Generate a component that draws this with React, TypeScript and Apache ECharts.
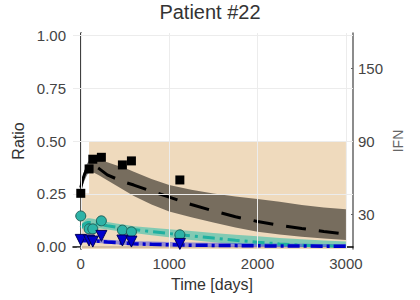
import React, { useEffect, useRef } from "react";
import * as echarts from "echarts";

// Model time grid (days)
const T = [0, 20, 40, 60, 80, 100, 150, 200, 300, 400, 500, 600, 800, 1000, 1250, 1500, 1750, 2000, 2250, 2500, 2750, 3000];

// Black (squares) model
const blackMean = [0.28, 0.315, 0.34, 0.36, 0.374, 0.382, 0.385, 0.372, 0.34, 0.322, 0.305, 0.292, 0.263, 0.235, 0.2, 0.17, 0.142, 0.12, 0.102, 0.087, 0.073, 0.06];
const blackUpper = [0.29, 0.33, 0.36, 0.385, 0.4, 0.41, 0.415, 0.41, 0.4, 0.385, 0.372, 0.355, 0.32, 0.292, 0.27, 0.252, 0.238, 0.226, 0.213, 0.198, 0.186, 0.178];
const blackLower = [0.27, 0.29, 0.31, 0.33, 0.345, 0.35, 0.35, 0.34, 0.315, 0.29, 0.265, 0.24, 0.2, 0.167, 0.14, 0.115, 0.092, 0.072, 0.058, 0.048, 0.04, 0.033];

// Teal (circles) model
const tealMean = [0.09, 0.1, 0.108, 0.113, 0.115, 0.115, 0.112, 0.108, 0.1, 0.093, 0.087, 0.082, 0.072, 0.063, 0.052, 0.042, 0.031, 0.022, 0.014, 0.008, 0.004, 0.002];
const tealUpper = [0.1, 0.115, 0.125, 0.132, 0.135, 0.135, 0.132, 0.127, 0.118, 0.11, 0.104, 0.098, 0.09, 0.083, 0.075, 0.066, 0.057, 0.05, 0.042, 0.036, 0.03, 0.025];
const tealLower = [0.08, 0.085, 0.09, 0.094, 0.095, 0.095, 0.092, 0.088, 0.082, 0.076, 0.07, 0.065, 0.055, 0.045, 0.033, 0.022, 0.012, 0.005, 0.001, 0, 0, 0];

// Blue (triangles) model
const blueMean = [0.03, 0.03, 0.03, 0.03, 0.03, 0.03, 0.029, 0.027, 0.023, 0.02, 0.017, 0.015, 0.012, 0.01, 0.008, 0.007, 0.006, 0.005, 0.004, 0.004, 0.003, 0.003];
const blueUpper = [0.04, 0.04, 0.04, 0.04, 0.04, 0.04, 0.039, 0.037, 0.034, 0.031, 0.029, 0.027, 0.025, 0.023, 0.021, 0.02, 0.018, 0.017, 0.016, 0.015, 0.014, 0.014];
const blueLower = [0.02, 0.02, 0.02, 0.02, 0.02, 0.02, 0.019, 0.018, 0.015, 0.012, 0.009, 0.007, 0.004, 0.002, 0.001, 0, 0, 0, 0, 0, 0, 0];

// Observations
const obsT = [0, 94, 136, 233, 471, 573, 1121];
const blackObs = [0.253, 0.368, 0.414, 0.423, 0.387, 0.406, 0.316];
const tealObs = [0.146, 0.085, 0.085, 0.123, 0.079, 0.071, 0.057];
const blueObs = [0.033, 0.03, 0.025, 0.052, 0.03, 0.025, 0.014];

// IFN dosing (right axis)
const ifnT = [0, 94, 94, 3000];
const ifnV = [47, 47, 90, 90];

// Ticks
const xTicks = [0, 1000, 2000, 3000];
const yTicks = [0, 0.25, 0.5, 0.75, 1.0];
const yGrid = [0.25, 0.5, 0.75, 1.0];
const ifnTicks = [30, 90, 150];

const FONT = "'Liberation Sans', Arial, Helvetica, sans-serif";

const pairs = (xs: number[], ys: number[]) => xs.map((x, i) => [x, ys[i]]);

const band = (upper: number[], lower: number[], fill: string) => ({
  type: "custom",
  xAxisIndex: 0,
  yAxisIndex: 0,
  silent: true,
  z: 3,
  data: [[T[0], upper[0]]],
  renderItem: (_p: any, api: any) => {
    const pts: number[][] = [];
    for (let i = 0; i < T.length; i++) pts.push(api.coord([T[i], upper[i]]));
    for (let i = T.length - 1; i >= 0; i--) pts.push(api.coord([T[i], lower[i]]));
    return { type: "polygon", shape: { points: pts }, style: { fill } };
  },
});

export default function App() {
  const ref = useRef<HTMLDivElement>(null);
  useEffect(() => {
    if (!ref.current) return;
    const chart = echarts.init(ref.current, undefined, { renderer: "svg" });
    const option: any = {
      animation: false,
      backgroundColor: "#ffffff",
      grid: { left: 73, right: 67, top: 33, bottom: 51, containLabel: false, outerBoundsMode: "none" },
      xAxis: {
        type: "value",
        min: -88,
        max: 3080,
        axisLine: { show: true, lineStyle: { color: "#000", width: 1.5 } },
        axisTick: { show: false },
        axisLabel: {
          customValues: xTicks,
          fontSize: 15,
          color: "#444",
          margin: 7,
          fontFamily: FONT,
          formatter: (v: number) => String(v),
        },
        splitLine: { show: false },
      },
      yAxis: [
        {
          type: "value",
          min: -0.01,
          max: 1.01,
          axisLine: { show: true, lineStyle: { color: "#000", width: 1.5 } },
          axisTick: { show: true, customValues: yTicks, length: 4, lineStyle: { color: "#777" } },
          axisLabel: {
            customValues: yTicks,
            fontSize: 15,
            color: "#444",
            margin: 7,
            fontFamily: FONT,
            formatter: (v: number) => v.toFixed(2),
          },
          splitLine: { show: false },
        },
        {
          type: "value",
          position: "right",
          min: 1.2,
          max: 179.2,
          axisLine: { show: true, lineStyle: { color: "#666", width: 1.5 } },
          axisTick: { show: true, inside: true, customValues: ifnTicks, length: 2, lineStyle: { color: "#666" } },
          axisLabel: { customValues: ifnTicks, fontSize: 15, color: "#444", margin: 5, fontFamily: FONT },
          splitLine: { show: false },
        },
      ],
      graphic: [
        {
          type: "text",
          x: 210,
          y: 12,
          style: { text: "Patient #22", fontSize: 20, fill: "#333", fontFamily: FONT, textAlign: "center", textVerticalAlign: "middle" },
        },
        {
          type: "text",
          x: 212,
          y: 284,
          style: { text: "Time [days]", fontSize: 16, fill: "#333", fontFamily: FONT, textAlign: "center", textVerticalAlign: "middle" },
        },
        {
          type: "text",
          x: 18.5,
          y: 141,
          rotation: Math.PI / 2,
          style: { text: "Ratio", fontSize: 16, fill: "#333", fontFamily: FONT, textAlign: "center", textVerticalAlign: "middle" },
        },
        {
          type: "text",
          x: 398,
          y: 141,
          rotation: Math.PI / 2,
          style: { text: "IFN", fontSize: 14, fill: "#666", fontFamily: FONT, textAlign: "center", textVerticalAlign: "middle" },
        },
      ],
      series: [
        {
          type: "line",
          data: [],
          silent: true,
          z: 1,
          markLine: {
            silent: true,
            symbol: "none",
            label: { show: false },
            lineStyle: { color: "#ececec", width: 1, type: "solid" },
            data: [...xTicks.map((v) => ({ xAxis: v })), ...yGrid.map((v) => ({ yAxis: v }))],
          },
        },
        {
          type: "line",
          yAxisIndex: 1,
          z: 2,
          data: pairs(ifnT, ifnV),
          symbol: "none",
          silent: true,
          lineStyle: { width: 0 },
          areaStyle: { color: "rgba(236,212,178,0.85)", origin: "start", opacity: 1 },
        },
        band(blackUpper, blackLower, "rgba(0,0,0,0.5)"),
        band(tealUpper, tealLower, "rgba(40,190,172,0.55)"),
        band(blueUpper, blueLower, "rgba(60,60,225,0.5)"),
        {
          type: "line",
          z: 4,
          data: pairs(T, blackMean),
          symbol: "none",
          lineStyle: { color: "#000", width: 3, type: [20, 13] },
        },
        {
          type: "line",
          z: 4,
          data: pairs(T, tealMean),
          symbol: "none",
          lineStyle: { color: "#1fb0a0", width: 3, type: [12, 5, 3, 5] },
        },
        {
          type: "line",
          z: 4,
          data: pairs(T, blueMean),
          symbol: "none",
          lineStyle: { color: "#0000cc", width: 3.5, type: [12, 4, 3, 4] },
        },
        {
          type: "scatter",
          z: 5,
          clip: false,
          data: pairs(obsT, blackObs),
          symbol: "rect",
          symbolSize: 9,
          itemStyle: { color: "#000", opacity: 1 },
        },
        {
          type: "scatter",
          z: 5,
          clip: false,
          data: pairs(obsT, tealObs),
          symbol: "circle",
          symbolSize: 10,
          itemStyle: { color: "#2db3a7", borderColor: "#1c5f58", borderWidth: 1, opacity: 1 },
        },
        {
          type: "scatter",
          z: 6,
          clip: false,
          data: pairs(obsT, blueObs),
          symbol: "triangle",
          symbolRotate: 180,
          symbolSize: 11,
          itemStyle: { color: "#0000cc", borderColor: "#00005a", borderWidth: 1, opacity: 1 },
        },
      ],
    };
    chart.setOption(option);
    return () => chart.dispose();
  }, []);
  return <div ref={ref} style={{ width: 420, height: 300, position: "absolute", left: 0, top: 0 }} />;
}
